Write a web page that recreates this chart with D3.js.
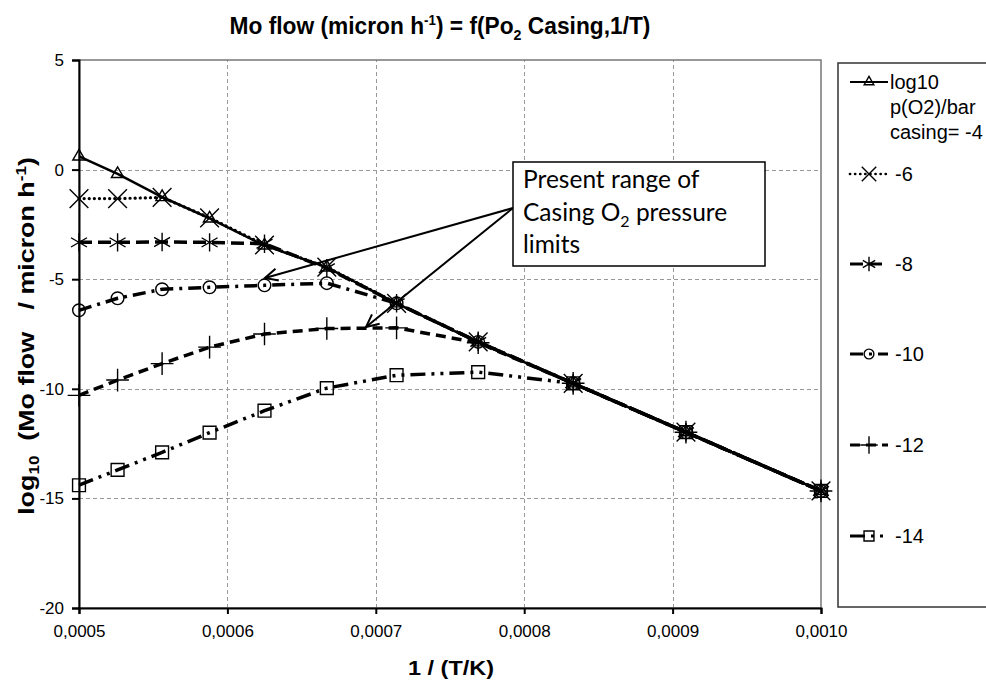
<!DOCTYPE html>
<html lang='en'>
<head>
    <meta charset='UTF-8'>
    <title>Mo flow</title>
    <script src='https://cdn.jsdelivr.net/npm/d3@7/dist/d3.min.js'></script>
    <style>
        body { margin: 0; background: #fff; }
        svg { display: block; font-family: 'Liberation Sans', Arial, sans-serif; }
        .grid line { stroke: #999; stroke-dasharray: 4, 3; stroke-width: 1; shape-rendering: crispEdges; }
        .grid path { stroke-width: 0; }
        .axis path, .axis line { stroke: #000; stroke-width: 2; }
        .axis text { font-size: 17px; fill: #000; }
        .series { fill: none; stroke: #000; }
        .marker { fill: none; stroke: #000; stroke-width: 1.4; }
        .ann { font-family: Lato, 'Open Sans', sans-serif; font-size: 24.5px; }
    </style>
</head>
<body>
<script>
    // 1/T values (1/K) for T = 2000 ... 1000 K
    const invT = [0.0005, 0.000526, 0.000556, 0.000588, 0.000625, 0.000667, 0.000714, 0.000769, 0.000833, 0.000909, 0.0010];

    // log10 Mo flow (micron/h), one array per casing log10 p(O2)
    const flowM4  = [0.6, -0.2, -1.25, -2.23, -3.46, -4.46, -6.1, -7.88, -9.75, -11.98, -14.66];
    const flowM6  = [-1.32, -1.32, -1.27, -2.2, -3.44, -4.45, -6.1, -7.86, -9.75, -11.98, -14.66];
    const flowM8  = [-3.32, -3.32, -3.3, -3.32, -3.38, -4.5, -6.1, -7.86, -9.75, -11.98, -14.66];
    const flowM10 = [-6.42, -5.87, -5.46, -5.37, -5.28, -5.18, -6.1, -7.86, -9.75, -11.98, -14.66];
    const flowM12 = [-10.3, -9.6, -8.85, -8.1, -7.5, -7.25, -7.22, -7.9, -9.75, -11.98, -14.66];
    const flowM14 = [-14.4, -13.7, -12.9, -12.0, -11.0, -9.97, -9.38, -9.24, -9.75, -11.98, -14.66];

    const seriesNames = ['-4', '-6', '-8', '-10', '-12', '-14'];
    const xTicks = [0.0005, 0.0006, 0.0007, 0.0008, 0.0009, 0.0010];
    const yTicks = [5, 0, -5, -10, -15, -20];

    const styles = [
        { dash: null, width: 2.5, cap: 'butt', symbol: d3.symbolTriangle2, size: 110 },
        { dash: '0.1,5', width: 3.2, cap: 'round', symbol: d3.symbolTimes, size: 230 },
        { dash: '13,6', width: 3.5, cap: 'butt', symbol: d3.symbolAsterisk, size: 240 },
        { dash: '13,6,3,6', width: 3.5, cap: 'butt', symbol: d3.symbolCircle, size: 125 },
        { dash: '10,6', width: 3.5, cap: 'butt', symbol: d3.symbolPlus, size: 170 },
        { dash: '15,6,3,6,3,6', width: 3.5, cap: 'butt', symbol: d3.symbolSquare2, size: 210 }
    ];

    const allSeries = [flowM4, flowM6, flowM8, flowM10, flowM12, flowM14].map((vals, i) => ({
        name: seriesNames[i],
        style: styles[i],
        points: vals.map((v, j) => ({ x: invT[j], y: v }))
    }));

    const margin = { top: 60, right: 165, bottom: 75, left: 79 };
    const W = 986, H = 683;
    const width = W - margin.left - margin.right;   // 742
    const height = H - margin.top - margin.bottom;  // 548

    const svg = d3.select('body').append('svg').attr('width', W).attr('height', H);
    const g = svg.append('g').attr('transform', `translate(${margin.left}, ${margin.top})`);

    const xScale = d3.scaleLinear().domain([0.0005, 0.0010]).range([0, width]);
    const yScale = d3.scaleLinear().domain([-20, 5]).range([height, 0]);

    // squeeze a text element horizontally to a given width (the original uses a narrow font)
    function fitWidth(text, target) {
        const w = text.node().getBBox().width;
        text.attr('transform', `scale(${target / w}, 1)`);
    }

    // grid
    g.append('g').attr('class', 'grid')
        .attr('transform', `translate(0, ${height})`)
        .call(d3.axisBottom(xScale).tickValues(xTicks.slice(1, -1)).tickSize(-height).tickFormat(''));
    g.append('g').attr('class', 'grid')
        .call(d3.axisLeft(yScale).tickValues(yTicks.slice(1, -1)).tickSize(-width).tickFormat(''));

    // plot frame (top & right in grey)
    g.append('rect').attr('width', width).attr('height', height)
        .attr('fill', 'none').attr('stroke', '#777').attr('stroke-width', 1.5);

    // series lines
    const line = d3.line().x(d => xScale(d.x)).y(d => yScale(d.y));
    allSeries.slice().reverse().forEach(s => {
        g.append('path')
            .datum(s.points)
            .attr('class', 'series')
            .attr('d', line)
            .attr('stroke-width', s.style.width)
            .attr('stroke-linecap', s.style.cap)
            .attr('stroke-dasharray', s.style.dash);
    });

    // markers
    allSeries.forEach(s => {
        g.selectAll(null)
            .data(s.points)
            .enter().append('path')
            .attr('class', 'marker')
            .attr('transform', d => `translate(${xScale(d.x)}, ${yScale(d.y)})`)
            .attr('d', d3.symbol().type(s.style.symbol).size(s.style.size));
    });

    // axes
    g.append('g').attr('class', 'axis')
        .call(d3.axisLeft(yScale).tickValues(yTicks).tickSize(7).tickPadding(8).tickFormat(d => String(d)));
    g.append('g').attr('class', 'axis')
        .attr('transform', `translate(0, ${height})`)
        .call(d3.axisBottom(xScale).tickValues(xTicks).tickSize(6).tickPadding(11)
            .tickFormat(d => d.toFixed(4).replace('.', ',')));

    // title
    const title = svg.append('g').attr('transform', 'translate(440, 34)')
        .append('text')
        .attr('text-anchor', 'middle')
        .style('font-size', '24px').style('font-weight', 'bold');
    title.append('tspan').text('Mo flow (micron h');
    title.append('tspan').attr('dy', -9).style('font-size', '14px').text('-1');
    title.append('tspan').attr('dy', 9).text(') = f(Po');
    title.append('tspan').attr('dy', 6).style('font-size', '15px').text('2');
    title.append('tspan').attr('dy', -6).text(' Casing,1/T)');
    fitWidth(title, 421);

    // axis titles
    const xLab = svg.append('g').attr('transform', `translate(451, 675)`)
        .append('text')
        .attr('text-anchor', 'middle')
        .style('font-size', '21px').style('font-weight', 'bold')
        .text('1 / (T/K)');
    fitWidth(xLab, 86);

    const yLab = svg.append('g')
        .attr('transform', `translate(34, 336) rotate(-90)`)
        .append('text')
        .attr('text-anchor', 'middle')
        .style('font-size', '22px').style('font-weight', 'bold');
    yLab.append('tspan').text('log');
    yLab.append('tspan').attr('dy', 5).style('font-size', '14px').text('10');
    yLab.append('tspan').attr('dy', -5).attr('xml:space', 'preserve').text('  (Mo flow   / micron h');
    yLab.append('tspan').attr('dy', -8).style('font-size', '14px').text('-1');
    yLab.append('tspan').attr('dy', 8).text(')');
    fitWidth(yLab, 358);

    // legend
    const leg = svg.append('g');
    leg.append('rect')
        .attr('x', 838).attr('y', 63).attr('width', 170).attr('height', 544)
        .attr('fill', '#fff').attr('stroke', '#333').attr('stroke-width', 1.5);
    const legY = [82, 174, 264, 354, 445, 536];
    allSeries.forEach((s, i) => {
        const ly = legY[i];
        leg.append('line')
            .attr('x1', 850).attr('x2', 888).attr('y1', ly).attr('y2', ly)
            .attr('stroke', '#000')
            .attr('stroke-width', s.style.width * 0.85)
            .attr('stroke-linecap', s.style.cap)
            .attr('stroke-dasharray', s.style.dash);
        leg.append('path')
            .attr('class', 'marker')
            .attr('transform', `translate(869, ${ly})`)
            .attr('d', d3.symbol().type(s.style.symbol).size(s.style.size * 0.6));
        if (i === 0) {
            const t = leg.append('text').attr('x', 890).attr('y', 89).style('font-size', '20px');
            ['log10', 'p(O2)/bar', 'casing= -4'].forEach((str, k) => {
                t.append('tspan').attr('x', 890).attr('dy', k === 0 ? 0 : 25).text(str);
            });
        } else {
            leg.append('text').attr('x', 895).attr('y', ly + 7)
                .style('font-size', '20px').text(s.name);
        }
    });

    // annotation
    const ann = svg.append('g');
    const boxX = 513, boxY = 162, boxW = 252, boxH = 104;
    const arrowStart = [513, 208];
    const arrowEnds = [[265, 278], [366, 327]];
    arrowEnds.forEach(e => {
        ann.append('line')
            .attr('x1', arrowStart[0]).attr('y1', arrowStart[1])
            .attr('x2', e[0]).attr('y2', e[1])
            .attr('stroke', '#000').attr('stroke-width', 2);
        const ang = Math.atan2(e[1] - arrowStart[1], e[0] - arrowStart[0]);
        const len = 14, spread = 0.45;
        const p1 = [e[0] - len * Math.cos(ang - spread), e[1] - len * Math.sin(ang - spread)];
        const p2 = [e[0] - len * Math.cos(ang + spread), e[1] - len * Math.sin(ang + spread)];
        ann.append('path')
            .attr('d', `M${p1}L${e}L${p2}`)
            .attr('fill', 'none').attr('stroke', '#000').attr('stroke-width', 2);
    });
    ann.append('rect')
        .attr('x', boxX).attr('y', boxY).attr('width', boxW).attr('height', boxH)
        .attr('fill', '#fff').attr('stroke', '#000').attr('stroke-width', 1.5);
    ann.append('text').attr('class', 'ann').attr('x', 523).attr('y', 188).text('Present range of');
    const l2 = ann.append('text').attr('class', 'ann').attr('x', 523).attr('y', 221);
    l2.append('tspan').text('Casing O');
    l2.append('tspan').attr('dy', 6).style('font-size', '16px').text('2');
    l2.append('tspan').attr('dy', -6).text(' pressure');
    ann.append('text').attr('class', 'ann').attr('x', 523).attr('y', 253).text('limits');
</script>
</body>
</html>
